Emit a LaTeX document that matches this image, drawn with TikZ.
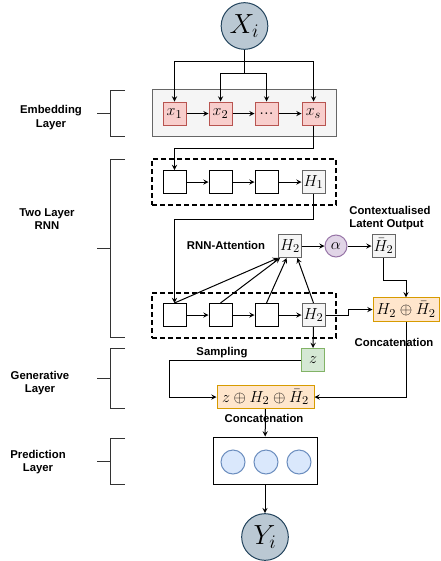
\documentclass[tikz,border=0pt]{standalone}
\usepackage{fontspec}
\setsansfont{Liberation Sans}
\usepackage{tikz}
\usetikzlibrary{arrows}

\definecolor{ioFill}{HTML}{BAC8D3}
\definecolor{ioLine}{HTML}{23445D}
\definecolor{embFill}{HTML}{F8CECC}
\definecolor{embLine}{HTML}{B85450}
\definecolor{grayFill}{HTML}{F5F5F5}
\definecolor{grayLine}{HTML}{666666}
\definecolor{attFill}{HTML}{E1D5E7}
\definecolor{attLine}{HTML}{9673A6}
\definecolor{catFill}{HTML}{FFE6CC}
\definecolor{catLine}{HTML}{D79B00}
\definecolor{zFill}{HTML}{D5E8D4}
\definecolor{zLine}{HTML}{82B366}
\definecolor{predFill}{HTML}{DAE8FC}
\definecolor{predLine}{HTML}{6C8EBF}

\begin{document}
\begin{tikzpicture}[> = stealth, % arrow head style
	x=0.75pt, y=-0.75pt, % one unit is one pixel, y downwards
	line width=0.75pt % line style
	,every node/.style={inner sep=0pt},
	io/.style={circle, draw=ioLine, fill=ioFill, minimum size=35pt, font=\fontsize{22}{24}\selectfont},
	cell/.style={draw, fill=white, minimum size=17.25pt, font=\fontsize{13}{15}\selectfont},
	embcell/.style={cell, draw=embLine, fill=embFill},
	hcell/.style={cell, draw=grayLine, fill=grayFill},
	layerbox/.style={draw, line width=1pt, dash pattern=on 3.5pt off 2.5pt, minimum width=138pt, minimum height=34.5pt},
	catbox/.style={draw=catLine, fill=catFill, minimum height=17.5pt, font=\fontsize{13}{15}\selectfont},
	unit/.style={circle, draw=predLine, fill=predFill, minimum size=18pt},
	lbl/.style={font=\sffamily\bfseries\fontsize{8.5}{10}\selectfont, align=center}]

	\useasboundingbox (0,0) rectangle (440,561);

	% containers
	\node[draw=grayLine, fill=grayFill, minimum width=138pt, minimum height=35.25pt] (emb) at (244,112.5) {};
	\node[layerbox] (rnn1) at (244,182) {};
	\node[layerbox, minimum height=33.75pt] (rnn2) at (244,315.5) {};
	\node[draw, fill=white, minimum width=78pt, minimum height=35.25pt] (pred) at (265,460.5) {};

	\node[io] (xi) at (244.5,26)	{$X_i$};
	\node[io] (yi) at (265,537)	{$Y_i$};

	\node[embcell] (x1) at (174.5,113.5)	{$x_1$};
	\node[embcell] (x2) at (220.5,113.5)	{$x_2$};
	\node[embcell] (xdots) at (266.5,113.5)	{...};
	\node[embcell] (xs) at (313.5,113.5)	{$x_s$};

	\node[cell] (r11) at (174.5,182) {};
	\node[cell] (r12) at (220.5,182) {};
	\node[cell] (r13) at (266.5,182) {};
	\node[hcell] (h1) at (313.5,182) {$H_1$};

	\node[cell] (r21) at (174.5,315) {};
	\node[cell] (r22) at (220.5,315) {};
	\node[cell] (r23) at (266.5,315) {};
	\node[hcell] (h2) at (313.5,315) {$H_2$};

	\node[hcell] (h2att) at (290,246) {$H_2$};
	\node[circle, draw=attLine, fill=attFill, minimum size=16.5pt, font=\fontsize{13}{15}\selectfont] (alpha) at (336,246) {$\alpha$};
	\node[hcell] (hbar) at (383.5,246) {$\bar{H}_2$};

	\node[catbox, minimum width=49.5pt] (cat1) at (406,309.5) {$H_2\oplus\bar{H}_2$};
	\node[cell, draw=zLine, fill=zFill] (z) at (313,360) {$z$};
	\node[catbox, minimum width=72.75pt] (cat2) at (265.5,397) {$z\oplus H_2\oplus\bar{H}_2$};

	\node[unit] (u1) at (233,462) {};
	\node[unit] (u2) at (266,462) {};
	\node[unit] (u3) at (299,462) {};

	% labels
	\node[lbl] (lblAtt) at (226,245) {RNN-Attention};
	\node[lbl, align=left] (lblCtx) at (390,218) {Contextualised\\Latent Output};
	\node[lbl] (lblCat1) at (394,342) {Concatenation};
	\node[lbl] (lblSamp) at (222,353) {Sampling};
	\node[lbl] (lblCat2) at (264,418) {Concatenation};
	\node[lbl] (lblEmb) at (51,117.5) {Embedding\\Layer};
	\node[lbl] (lblRnn) at (47,219) {Two Layer\\RNN};
	\node[lbl] (lblGen) at (40,383) {Generative\\Layer};
	\node[lbl] (lblPred) at (38,462) {Prediction\\Layer};

	% brackets
	\foreach \top/\bot in {90/136, 159/337, 348/408, 438/484} {
		\draw[black!80] (125,\top) -- (110,\top) -- (110,\bot) -- (125,\bot);
		\draw[black!80] (97,{(\top+\bot)/2}) -- (110,{(\top+\bot)/2});
	}

	\coordinate (split1) at (244.5,61);
	\coordinate (split2) at (244.5,73);
	\draw (xi) -- (split2);
	\draw[->] (split1) -| (x1);
	\draw[->] (split1) -| (xs);
	\draw[->] (split2) -| (x2);
	\draw[->] (split2) -| (xdots);

	\draw[->] (x1)--(x2);
	\draw[->] (x2)--(xdots);
	\draw[->] (xdots)--(xs);
	\draw[->] (xs.south) -- ++(0,23) -| (r11.north);

	\draw[->] (r11)--(r12);
	\draw[->] (r12)--(r13);
	\draw[->] (r13)--(h1);
	\draw[->] (h1.south) -- ++(0,25) -| (r21.north);

	\draw[->] (r21)--(r22);
	\draw[->] (r22)--(r23);
	\draw[->] (r23)--(h2);

	\draw[->] (r21.north) -- (h2att.south west);
	\draw[->] (r22.north) -- ([xshift=1.5pt]h2att.south west);
	\draw[->] (r23.north) -- ([xshift=6.5pt]h2att.south west);
	\draw[->] (h2.north) -- ([xshift=-3.5pt]h2att.south east);

	\draw[->] (h2att)--(alpha);
	\draw[->] (alpha)--(hbar);
	\draw[->] (hbar.south) -- ++(0,22) -| (cat1.north);
	\draw[->] (h2.east) -- ++(23,0) |- (cat1.west);

	\draw[->] (h2.south)--(z.north);
	\draw[->] (z.west) -- ++(-132,0) |- (cat2.west);
	\draw[->] (cat1.south) |- (cat2.east);

	\draw[->] (cat2)--(pred);
	\draw[->] (pred)--(yi);

\end{tikzpicture}
\end{document}
